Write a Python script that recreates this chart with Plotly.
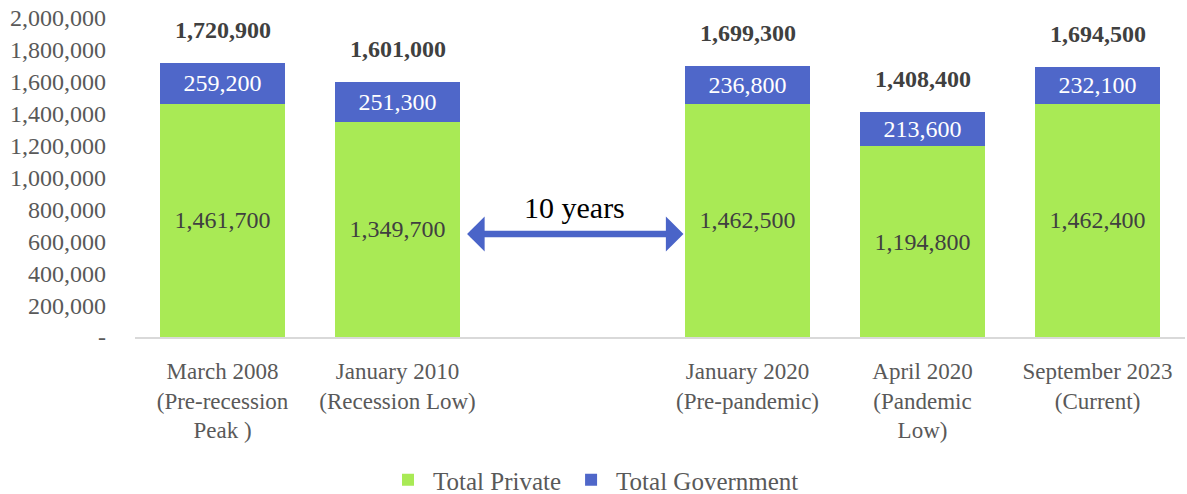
import plotly.graph_objects as go

categories = [
    "March 2008<br>(Pre-recession<br>Peak )",
    "January 2010<br>(Recession Low)",
    " ",
    "January 2020<br>(Pre-pandemic)",
    "April 2020<br>(Pandemic<br>Low)",
    "September 2023<br>(Current)",
]
total_private = [1461700, 1349700, None, 1462500, 1194800, 1462400]
total_government = [259200, 251300, None, 236800, 213600, 232100]
y_tick_vals = [0, 200000, 400000, 600000, 800000, 1000000, 1200000, 1400000, 1600000, 1800000, 2000000]
y_tick_text = ["-", "200,000", "400,000", "600,000", "800,000", "1,000,000", "1,200,000",
               "1,400,000", "1,600,000", "1,800,000", "2,000,000"]
arrow_label = "10 years"
arrow_from_index = 1.389
arrow_to_index = 2.634
arrow_value = 646000

GREEN = "#A9EA55"
BLUE = "#4F67C9"
FONT = "Liberation Serif"

fig = go.Figure()
fig.add_trace(go.Bar(
    x=categories, y=total_private, name="Total Private",
    marker=dict(color=GREEN, line=dict(width=0)),
    texttemplate="%{y:,}", textposition="inside", insidetextanchor="middle",
    textangle=0, insidetextfont=dict(family=FONT, size=24, color="#404040"),
))
fig.add_trace(go.Bar(
    x=categories, y=total_government, name="Total Government",
    marker=dict(color=BLUE, line=dict(width=0)),
    texttemplate="%{y:,}", textposition="inside", insidetextanchor="middle",
    textangle=0, insidetextfont=dict(family=FONT, size=24, color="white"),
))

for c, p, g in zip(categories, total_private, total_government):
    if p is None:
        continue
    fig.add_annotation(
        x=c, y=p + g, text="<b>{:,}</b>".format(p + g), showarrow=False,
        yanchor="middle", yshift=33,
        font=dict(family=FONT, size=24, color="#404040"),
    )

fig.add_annotation(
    x=arrow_to_index, y=arrow_value, ax=arrow_from_index, ay=arrow_value,
    xref="x", yref="y", axref="x", ayref="y",
    text="", showarrow=True, arrowhead=1, startarrowhead=1, arrowside="end+start",
    arrowsize=0.9, startarrowsize=0.9, arrowwidth=6.5, arrowcolor="#4A64C8",
    standoff=0, startstandoff=0,
)
fig.add_annotation(
    x=(arrow_from_index + arrow_to_index) / 2, y=arrow_value, text=arrow_label,
    showarrow=False, yanchor="middle", yshift=26,
    font=dict(family=FONT, size=30, color="#000000"),
)

fig.update_layout(
    barmode="stack", bargap=0.286,
    width=1187, height=494,
    margin=dict(l=135, r=2, t=18, b=157, autoexpand=False),
    paper_bgcolor="white", plot_bgcolor="white",
    font=dict(family=FONT, size=24, color="#595959"),
    showlegend=True,
    legend=dict(orientation="h", x=0.5, xanchor="center", xref="container",
                y=(494 - 480) / 494, yanchor="middle", yref="container",
                font=dict(family=FONT, size=25, color="#595959"), traceorder="normal",
                itemwidth=40),
    uniformtext=dict(minsize=24, mode="show"),
)
fig.update_xaxes(
    showline=True, linecolor="#D9D9D9", linewidth=2, showgrid=False, ticks="",
    automargin=False, ticklabelstandoff=12,
    tickfont=dict(family=FONT, size=23, color="#595959"),
)
fig.update_yaxes(
    range=[0, 2000000], tickvals=y_tick_vals, ticktext=y_tick_text,
    showgrid=False, zeroline=False, showline=False, ticks="", automargin=False,
    ticklabelstandoff=28,
    tickfont=dict(family=FONT, size=24, color="#595959"),
)

fig.write_html("out.html")
